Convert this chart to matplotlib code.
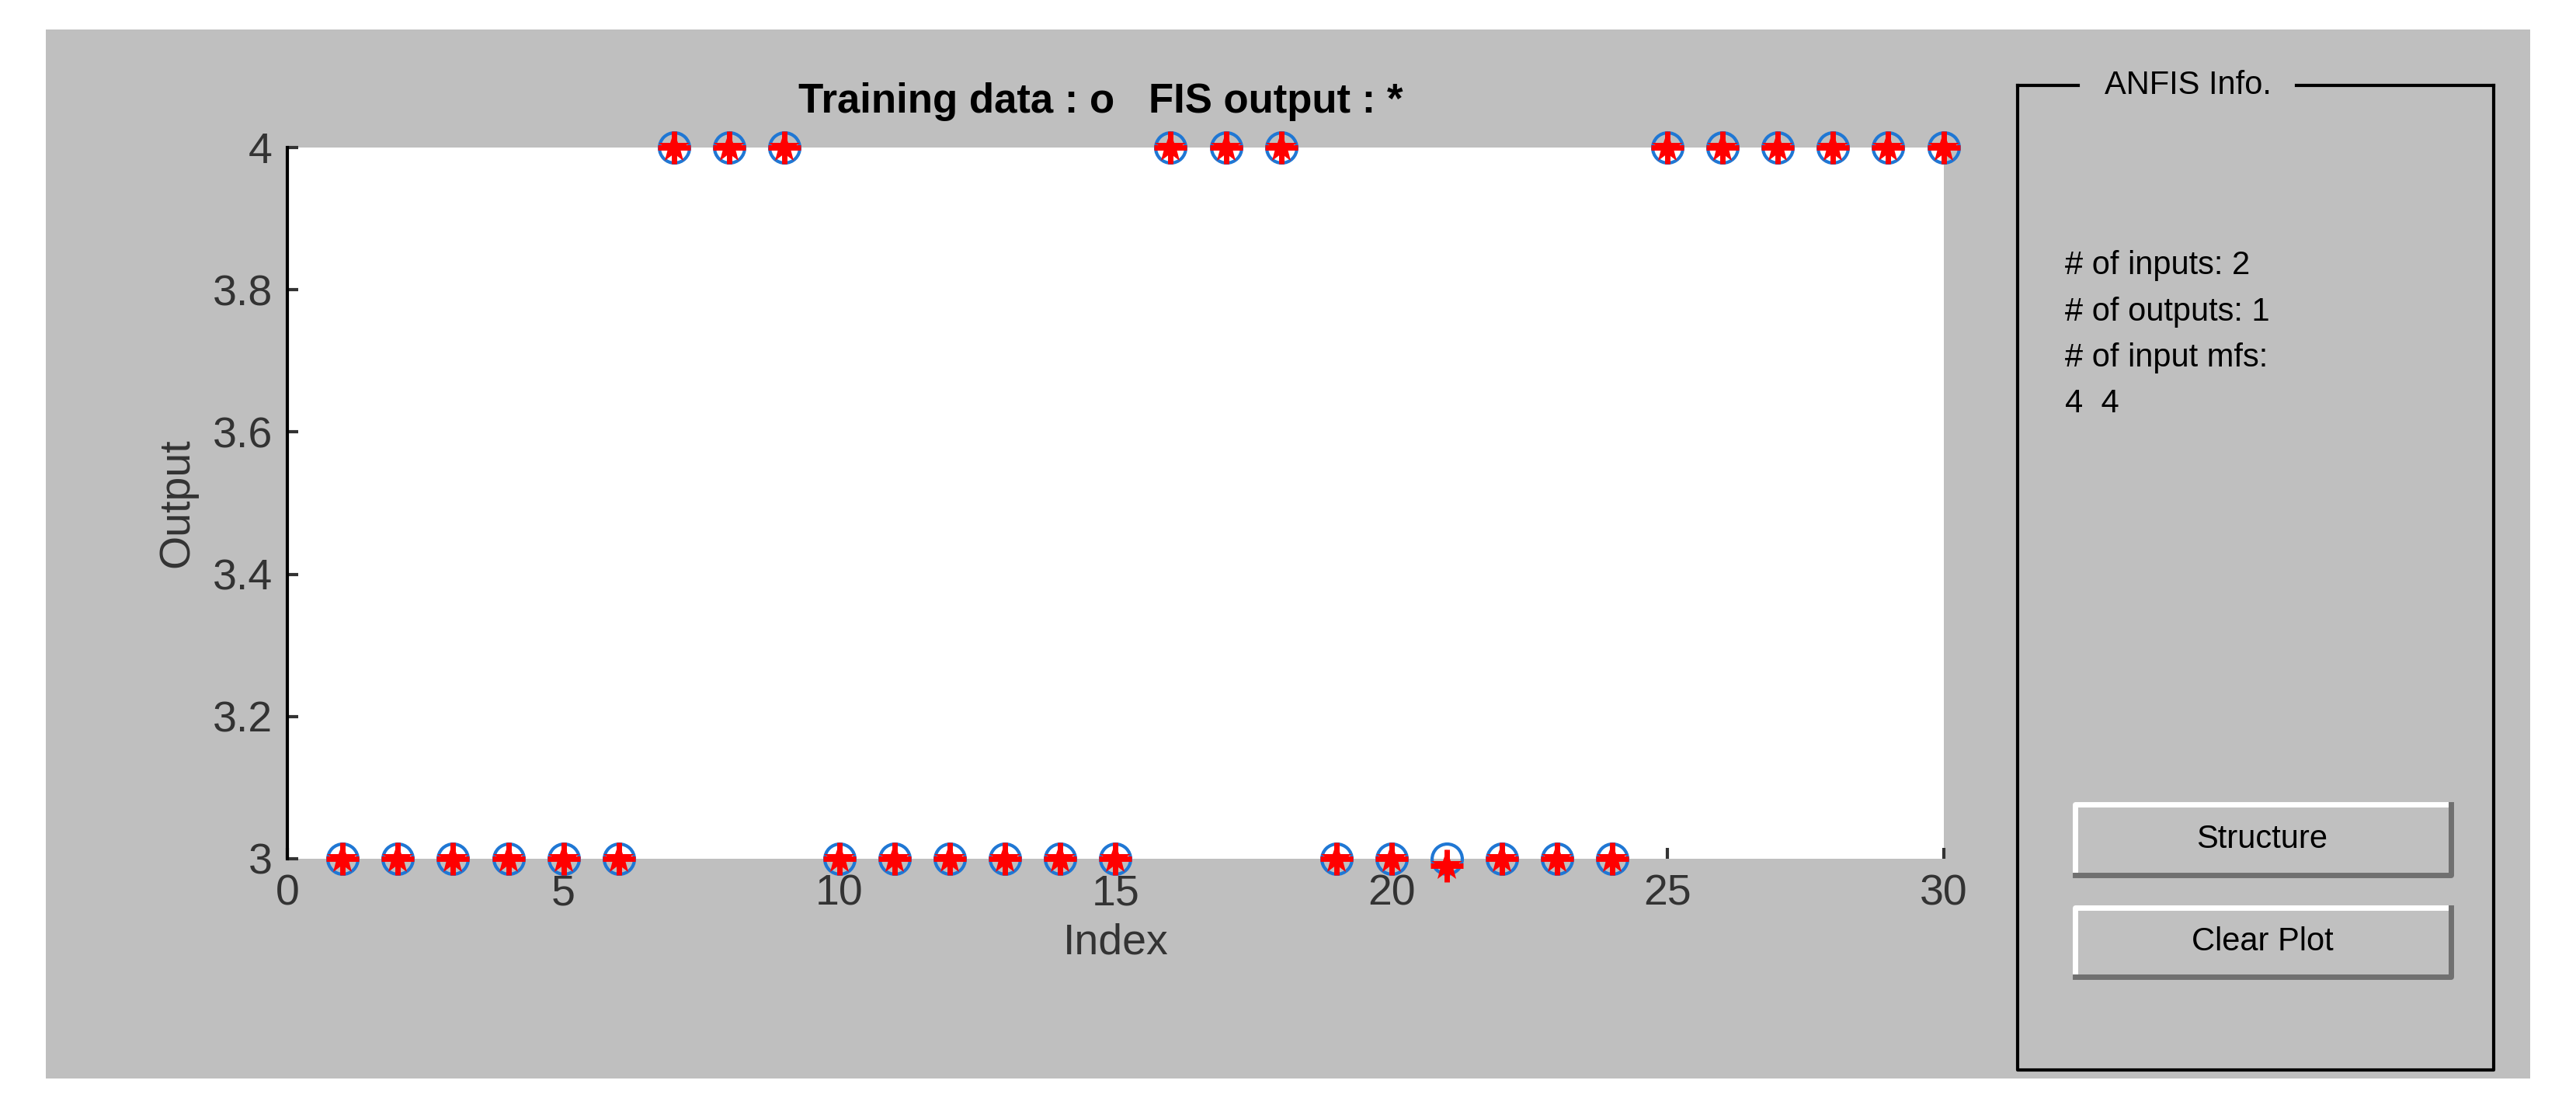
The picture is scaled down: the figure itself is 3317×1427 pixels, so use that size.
import matplotlib.pyplot as plt
from matplotlib.patches import Rectangle
import numpy as np

W, H = 1568.0, 675.0  # layout measured on the preview scale

index = np.arange(1, 31)
training = [3, 3, 3, 3, 3, 3, 4, 4, 4, 3, 3, 3, 3, 3, 3, 4, 4, 4,
            3, 3, 3, 3, 3, 3, 4, 4, 4, 4, 4, 4]
fis_out = [3, 3, 3, 3, 3, 3, 4, 4, 4, 3, 3, 3, 3, 3, 3, 4, 4, 4,
           3, 3, 2.99, 3, 3, 3, 4, 4, 4, 4, 4, 4]
info_lines = ["# of inputs: 2", "# of outputs: 1", "# of input mfs:", "4  4"]

plt.rcParams['font.family'] = ['Liberation Sans', 'DejaVu Sans']

fig = plt.figure(figsize=(33.17, 14.27), dpi=100)
fig.patch.set_facecolor('white')


def fx(x):
    return x / W


def fy(y):
    return 1 - y / H


# grey window
fig.patches.append(Rectangle((fx(28), fy(657)), fx(1540) - fx(28), fy(18) - fy(657),
                             transform=fig.transFigure, facecolor='#bfbfbf',
                             edgecolor='none', zorder=-5))

ax = fig.add_axes([fx(175), fy(523), fx(1183) - fx(175), fy(90) - fy(523)])
ax.set_zorder(2)
ax.set_facecolor('white')
ax.plot(index, training, 'o', markersize=28, markerfacecolor='none',
        markeredgecolor='#1f77d4', markeredgewidth=3, clip_on=False, zorder=3)
ax.plot(index, fis_out, '*', markersize=30, color='red', clip_on=False, zorder=4,
        markeredgewidth=0)
ax.plot(index, fis_out, '+', markersize=30, color='red', markeredgewidth=5,
        clip_on=False, zorder=4)
ax.set_xlim(0, 30)
ax.set_ylim(3, 4)
ax.set_xticks([0, 5, 10, 15, 20, 25, 30])
ax.set_yticks([3, 3.2, 3.4, 3.6, 3.8, 4])
ax.set_yticklabels(['3', '3.2', '3.4', '3.6', '3.8', '4'])
for s in ['top', 'right']:
    ax.spines[s].set_visible(False)
ax.spines['bottom'].set_visible(False)
ax.spines['left'].set_linewidth(3)
ax.tick_params(axis='both', labelsize=40, colors='#333333', length=10, width=3,
               direction='in', pad=14)
ax.set_xlabel('Index', fontsize=40, color='#333333', labelpad=8)
ax.set_ylabel('Output', fontsize=40, color='#333333', labelpad=14)
fig.text(fx(670), fy(62), 'Training data : o   FIS output : *', fontsize=38,
         fontweight='bold', ha='center', va='center', zorder=5)

# ANFIS info panel
px0, px1, py0, py1 = 1228, 1518, 52, 652
fig.lines.append(plt.Line2D([fx(px0), fx(1265)], [fy(py0), fy(py0)], transform=fig.transFigure, color='black', lw=3))
fig.lines.append(plt.Line2D([fx(1398), fx(px1)], [fy(py0), fy(py0)], transform=fig.transFigure, color='black', lw=3))
fig.lines.append(plt.Line2D([fx(px0), fx(px0), fx(px1), fx(px1)],
                            [fy(py0), fy(py1), fy(py1), fy(py0)],
                            transform=fig.transFigure, color='black', lw=3))
fig.text(fx(1332), fy(52), 'ANFIS Info.', fontsize=30, ha='center', va='center')
for i, line in enumerate(info_lines):
    fig.text(fx(1257), fy(162 + 28 * i), line, fontsize=30, ha='left', va='center')

for label, (y0, y1) in [('Structure', (490, 533)), ('Clear Plot', (553, 595))]:
    fig.patches.append(Rectangle((fx(1263), fy(y1)), fx(1492) - fx(1263), fy(y0) - fy(y1),
                                 transform=fig.transFigure, facecolor='#c0c0c0',
                                 edgecolor='none'))
    # bevel: light top/left, dark bottom/right
    fig.lines.append(plt.Line2D([fx(1263), fx(1263), fx(1492)], [fy(y1), fy(y0), fy(y0)],
                                transform=fig.transFigure, color='white', lw=5))
    fig.lines.append(plt.Line2D([fx(1263), fx(1492), fx(1492)], [fy(y1), fy(y1), fy(y0)],
                                transform=fig.transFigure, color='#707070', lw=5))
    fig.text(fx(1377), fy((y0 + y1) / 2), label, fontsize=30, ha='center', va='center')

fig.savefig('out.png', dpi=100)
